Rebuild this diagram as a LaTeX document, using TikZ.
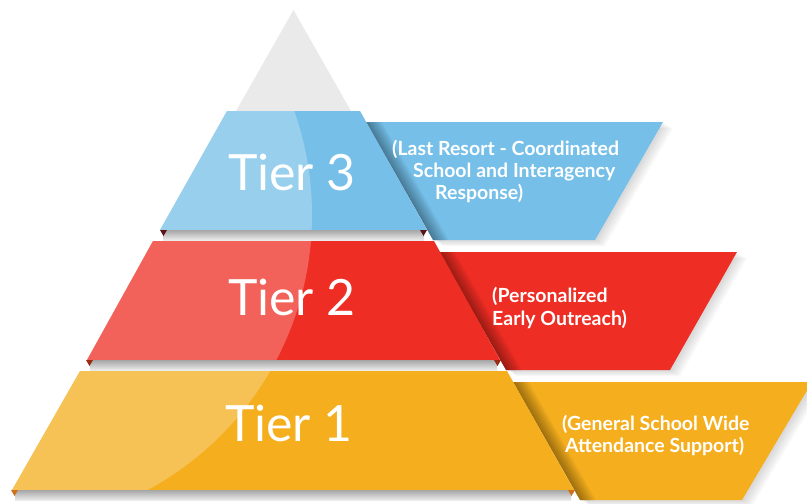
\documentclass[tikz,border=0pt]{standalone}
\usepackage{fontspec}
\setmainfont{Lato}
\usetikzlibrary{positioning}
\definecolor{peak}{HTML}{EAEAEA}
\definecolor{bluetier}{HTML}{75BFE8}
\definecolor{redtier}{HTML}{EE2E24}
\definecolor{goldtier}{HTML}{F4AE1E}
\definecolor{bluecorner}{HTML}{5A1414}
\definecolor{redcorner}{HTML}{9A2A12}
\definecolor{goldcorner}{HTML}{D0701C}
\tikzset{x=1pt, y=-1pt,
  tierlabel/.style={text=white, inner sep=0pt, font=\fontsize{50}{50}\selectfont},
  note/.style={text=white, inner sep=0pt, anchor=base west, font=\bfseries\fontsize{19.5}{22}\selectfont},
  gloss/.style={white, opacity=0.25},
  strip/.style={top color=black!35, bottom color=black!8},
  fold/.style={black, opacity=0.022},
  haze/.style={black, opacity=0.03}}

\begin{document}
\begin{tikzpicture}
\useasboundingbox (0,0) rectangle (807,504);

% top of the pyramid
\fill[peak] (293.5,10) -- (351,111) -- (236,111) -- cycle;

% soft shadows behind the banners
\foreach \d in {2,4,6,8,10} {
  \fill[haze, shift={(\d,0.6*\d)}] (366,122) -- (663,122) -- (595,240) -- (433,240) -- cycle;
  \fill[haze, shift={(\d,0.6*\d)}] (439,252) -- (737,252) -- (670,370) -- (506,370) -- cycle;
  \fill[haze, shift={(\d,0.6*\d)}] (513,382) -- (812,382) -- (742,500) -- (580,500) -- cycle;
}

% banners
\fill[bluetier] (366,122) -- (663,122) -- (595,240) -- (433,240) -- cycle;
\fill[redtier]  (439,252) -- (737,252) -- (670,370) -- (506,370) -- cycle;
\fill[goldtier] (513,382) -- (812,382) -- (742,500) -- (580,500) -- cycle;

% folds where the banners go under the tiers
\foreach \d in {1,2,...,16} {
  \fill[fold] (366,122) -- (366+\d,122) -- (433+\d,240) -- (433,240) -- cycle;
  \fill[fold] (439,252) -- (439+\d,252) -- (506+\d,370) -- (506,370) -- cycle;
  \fill[fold] (513,382) -- (513+\d,382) -- (580+\d,500) -- (580,500) -- cycle;
}

% tiers
\fill[bluetier] (227,111) -- (360,111) -- (427,230) -- (160,230) -- cycle;
\fill[redtier]  (153,241) -- (434,241) -- (500,360) -- (87,360) -- cycle;
\fill[goldtier] (80,371) -- (507,371) -- (574,490) -- (12,490) -- cycle;

% light sheen on the left
\begin{scope}
  \clip (227,111) -- (360,111) -- (427,230) -- (160,230) -- cycle
        (153,241) -- (434,241) -- (500,360) -- (87,360) -- cycle
        (80,371) -- (507,371) -- (574,490) -- (12,490) -- cycle;
  \fill[gloss] (0,215) circle (312);
\end{scope}

% ledges under the tiers
\fill[strip] (163,230) rectangle (424,240);
\fill[strip] (90,360) rectangle (497,370);
\fill[strip] (15,490) rectangle (571,500);
\fill[bluecorner] (160,230) -- (167,230) -- (163.5,236) -- cycle;
\fill[bluecorner] (420,230) -- (427,230) -- (423.5,236) -- cycle;
\fill[redcorner]  (86,360) -- (93,360) -- (89.5,366) -- cycle;
\fill[redcorner]  (494,360) -- (501,360) -- (497.5,366) -- cycle;
\fill[goldcorner] (11,490) -- (18,490) -- (14.5,496) -- cycle;
\fill[goldcorner] (568,490) -- (575,490) -- (571.5,496) -- cycle;

% tier names
\node[tierlabel] (t3) at (292,172) {Tier 3};
\node[tierlabel] (t2) at (292,297) {Tier 2};
\node[tierlabel] (t1) at (289,423) {Tier 1};

% banner texts
\node[note] (n3a) at (392,155) {(Last Resort - Coordinated};
\node[note] (n3b) at (413,177) {School and Interagency};
\node[note] (n3c) at (435,199) {Response)};
\node[note] (n2a) at (492,302) {(Personalized};
\node[note] (n2b) at (492,325) {Early Outreach)};
\node[note] (n1a) at (562,430) {(General School Wide};
\node[note] (n1b) at (565,452) {Attendance Support)};
\end{tikzpicture}
\end{document}
